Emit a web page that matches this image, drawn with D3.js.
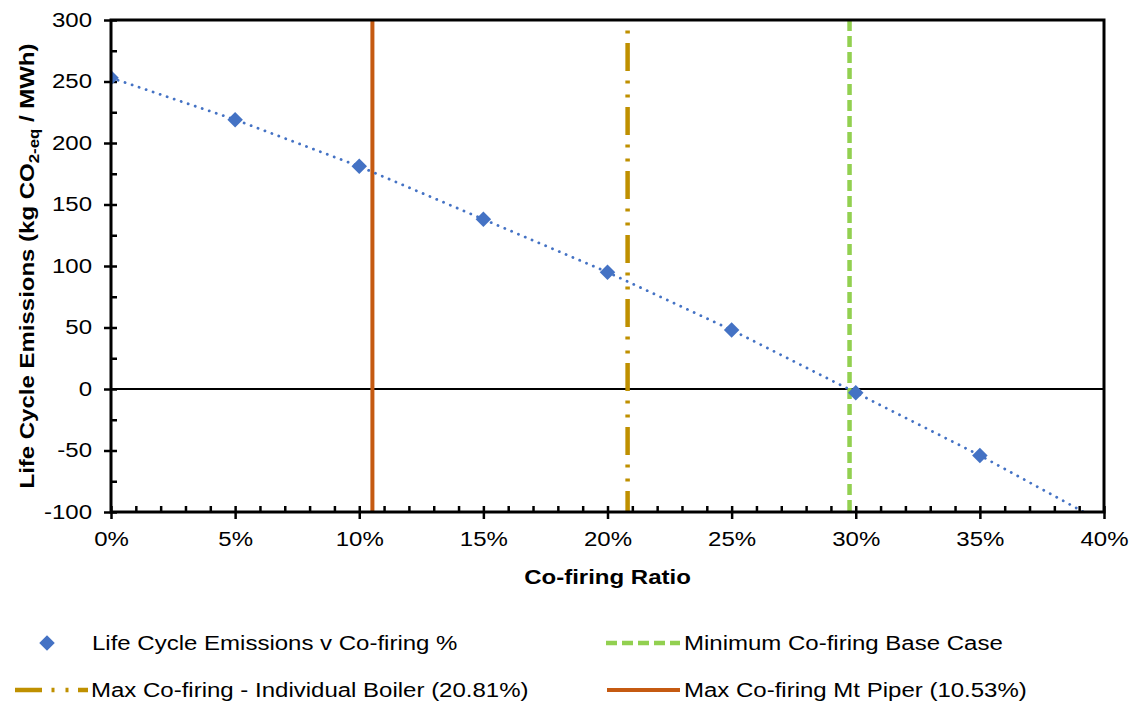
<!DOCTYPE html>
<html>
<head>
<meta charset="utf-8">
<script src="https://cdn.jsdelivr.net/npm/d3@7"></script>
<style>
  body { margin: 0; background: #fff; }
  text { font-family: "Liberation Sans", Arial, sans-serif; fill: #000; }
</style>
</head>
<body>
<div id="chart"></div>
<script>
// chart data
var ratios = [0, 0.05, 0.10, 0.15, 0.20, 0.25, 0.30, 0.35, 0.40];
var emissions = [253, 219, 181, 138, 95, 48, -3, -54, -109];
var xTicks = [0, 0.05, 0.10, 0.15, 0.20, 0.25, 0.30, 0.35, 0.40];
var yTicks = [-100, -50, 0, 50, 100, 150, 200, 250, 300];
var minCofiring = 0.2975;   // minimum co-firing base case
var maxBoiler = 0.2081;     // max co-firing individual boiler
var maxMtPiper = 0.1053;    // max co-firing Mt Piper

var W = 1132, H = 705;
var margin = {top: 20, right: 28, bottom: 193, left: 111};
var width = W - margin.left - margin.right,
    height = H - margin.top - margin.bottom;
var fs = 20, wide = 1.2;   // the original font runs wider than Arial

// widen a text horizontally to look like the original
function stretch(sel) {
  sel.each(function() {
    var len = this.getComputedTextLength();
    d3.select(this).attr("textLength", len * wide).attr("lengthAdjust", "spacingAndGlyphs");
  });
}

var svg = d3.select("#chart").append("svg")
    .attr("width", W)
    .attr("height", H);

var g = svg.append("g")
    .attr("transform", "translate(" + margin.left + "," + margin.top + ")");

var x = d3.scaleLinear().domain([0, 0.40]).range([0, width]);
var y = d3.scaleLinear().domain([-100, 300]).range([height, 0]);

g.append("clipPath").attr("id", "plotclip")
  .append("rect").attr("x", 0).attr("y", 0).attr("width", width).attr("height", height);

// zero line
g.append("line")
    .attr("x1", 0).attr("x2", width)
    .attr("y1", y(0)).attr("y2", y(0))
    .attr("stroke", "#000").attr("stroke-width", 2);

// minor ticks (inside)
var xMinor = d3.range(0, 41).map(function(d) { return d / 100; });
var yMinor = d3.range(-100, 301, 25);
g.append("g")
    .attr("transform", "translate(0," + height + ")")
    .call(d3.axisBottom(x).tickValues(xMinor).tickSize(-6).tickFormat(""))
    .call(function(s) { s.select(".domain").remove(); })
    .selectAll("line").attr("stroke-width", 2.5);
g.append("g")
    .call(d3.axisLeft(y).tickValues(yMinor).tickSize(-6).tickFormat(""))
    .call(function(s) { s.select(".domain").remove(); })
    .selectAll("line").attr("stroke-width", 2.5);

// major axes
var xAxis = g.append("g")
    .attr("transform", "translate(0," + height + ")")
    .call(d3.axisBottom(x).tickValues(xTicks).tickSize(7).tickPadding(13).tickFormat(d3.format(".0%")));
xAxis.select(".domain").remove();
xAxis.selectAll("line").attr("stroke-width", 2.5);
xAxis.selectAll("text").style("font-size", fs + "px").attr("fill", "#000").call(stretch);

var yAxis = g.append("g")
    .call(d3.axisLeft(y).tickValues(yTicks).tickSize(7).tickPadding(12)
      .tickFormat(function(d) { return String(d); }));
yAxis.select(".domain").remove();
yAxis.selectAll("line").attr("stroke-width", 2.5);
yAxis.selectAll("text").style("font-size", fs + "px").attr("fill", "#000").call(stretch);

// vertical reference lines
var plot = g.append("g").attr("clip-path", "url(#plotclip)");

plot.append("line")
    .attr("x1", x(maxMtPiper)).attr("x2", x(maxMtPiper))
    .attr("y1", y(300)).attr("y2", y(-100))
    .attr("stroke", "#c55a11").attr("stroke-width", 4);

plot.append("line")
    .attr("x1", x(maxBoiler)).attr("x2", x(maxBoiler))
    .attr("y1", y(300)).attr("y2", y(-100))
    .attr("stroke", "#bf9000").attr("stroke-width", 4.5)
    .attr("stroke-dasharray", "28 9.5 3 11 3 9.5")
    .attr("stroke-dashoffset", 41);

plot.append("line")
    .attr("x1", x(minCofiring)).attr("x2", x(minCofiring))
    .attr("y1", y(300)).attr("y2", y(-100))
    .attr("stroke", "#92d050").attr("stroke-width", 4.5)
    .attr("stroke-dasharray", "11 5");

// emissions series
var pts = ratios.map(function(r, i) { return {r: r, v: emissions[i]}; });
var line = d3.line()
    .x(function(d) { return x(d.r); })
    .y(function(d) { return y(d.v); });

plot.append("path")
    .datum(pts)
    .attr("d", line)
    .attr("fill", "none")
    .attr("stroke", "#4472c4")
    .attr("stroke-width", 2.8)
    .attr("stroke-linecap", "round")
    .attr("stroke-dasharray", "0.1 7.3");

var diamond = d3.symbol().type(d3.symbolSquare).size(120);
plot.selectAll(".pt")
    .data(pts)
    .enter()
  .append("path")
    .attr("class", "pt")
    .attr("d", diamond)
    .attr("transform", function(d) { return "translate(" + x(d.r) + "," + y(d.v) + ") rotate(45)"; })
    .attr("fill", "#4472c4");

// frame
g.append("rect")
    .attr("width", width).attr("height", height)
    .attr("fill", "none").attr("stroke", "#000").attr("stroke-width", 3);

// axis titles
g.append("text")
    .attr("x", width / 2)
    .attr("y", height + 72)
    .attr("text-anchor", "middle")
    .style("font-size", fs + "px").style("font-weight", "bold")
    .text("Co-firing Ratio")
    .call(stretch);

var yt = svg.append("text")
    .attr("transform", "translate(34," + (margin.top + height / 2) + ")rotate(-90)scale(" + wide + ",1)")
    .attr("text-anchor", "middle")
    .style("font-size", fs + "px").style("font-weight", "bold");
yt.append("tspan").text("Life Cycle Emissions (kg CO");
yt.append("tspan").attr("dy", 5).style("font-size", "14px").text("2-eq");
yt.append("tspan").attr("dy", -5).text(" / MWh)");

// legend
var legend = svg.append("g");
var row1 = 643, row2 = 690;

legend.append("path")
    .attr("d", diamond)
    .attr("transform", "translate(47," + row1 + ") rotate(45)")
    .attr("fill", "#4472c4");
legend.append("text").attr("x", 92).attr("y", row1).attr("dy", "0.35em")
    .style("font-size", fs + "px").text("Life Cycle Emissions v Co-firing %");

legend.append("line")
    .attr("x1", 606).attr("x2", 680).attr("y1", row1).attr("y2", row1)
    .attr("stroke", "#92d050").attr("stroke-width", 4.5)
    .attr("stroke-dasharray", "11 5");
legend.append("text").attr("x", 684).attr("y", row1).attr("dy", "0.35em")
    .style("font-size", fs + "px").text("Minimum Co-firing Base Case");

legend.append("line")
    .attr("x1", 15).attr("x2", 88).attr("y1", row2).attr("y2", row2)
    .attr("stroke", "#bf9000").attr("stroke-width", 4.5)
    .attr("stroke-dasharray", "27 9.5 3 11 3 9.5");
legend.append("text").attr("x", 91).attr("y", row2).attr("dy", "0.35em")
    .style("font-size", fs + "px").text("Max Co-firing - Individual Boiler (20.81%)");

legend.append("line")
    .attr("x1", 607).attr("x2", 680).attr("y1", row2).attr("y2", row2)
    .attr("stroke", "#c55a11").attr("stroke-width", 4);
legend.append("text").attr("x", 684).attr("y", row2).attr("dy", "0.35em")
    .style("font-size", fs + "px").text("Max Co-firing Mt Piper (10.53%)");

legend.selectAll("text").call(stretch);
</script>
</body>
</html>
